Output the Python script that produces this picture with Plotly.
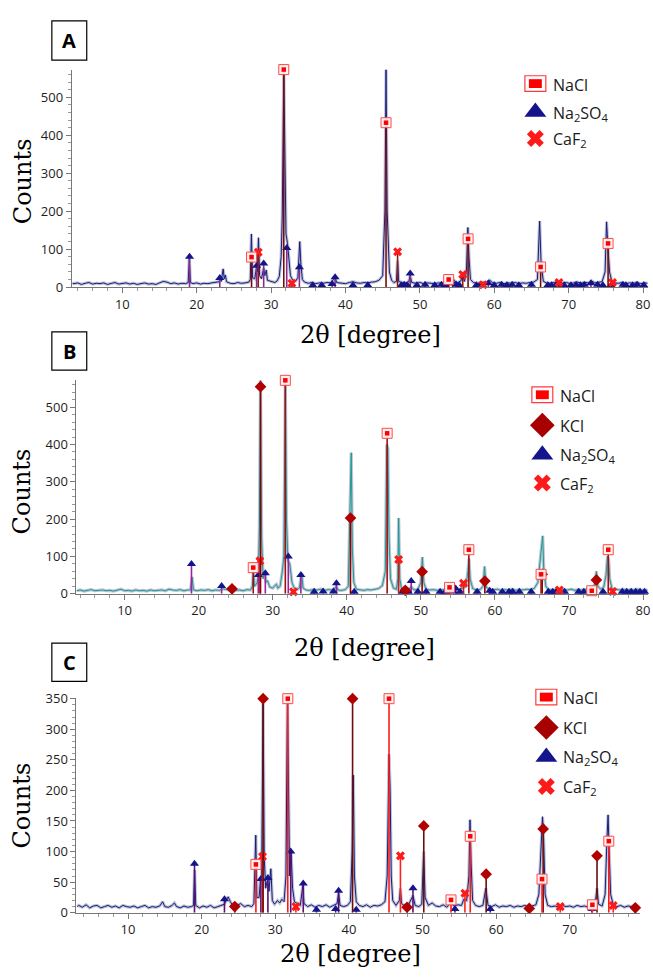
import plotly.graph_objects as go

W, H = 653, 977

# ------------------------------------------------------------------ data
# measured XRD patterns: (2theta, counts)
A_pattern = [(3.3, 10), (3.5, 9), (4, 11), (4.5, 7), (5, 10), (5.5, 12), (6, 8), (6.5, 10), (7, 9), (7.5, 11),
             (8, 7), (8.5, 10), (9, 12), (9.5, 8), (10, 9), (10.5, 11), (11, 8), (11.5, 10), (12, 7), (12.5, 9),
             (13, 11), (13.5, 8), (14, 9), (14.5, 7), (15, 10), (15.5, 15), (16, 13), (16.5, 9), (17, 11),
             (17.5, 8), (18, 10), (18.5, 9), (18.85, 12), (19.0, 75), (19.15, 12), (19.5, 9), (20, 11),
             (20.5, 8), (21, 10), (21.5, 9), (22, 11), (22.5, 12), (23, 14), (23.15, 22), (23.3, 15),
             (23.55, 48), (23.7, 22), (23.85, 32), (24.0, 14), (24.5, 10), (25, 9), (25.5, 12), (26, 10),
             (26.5, 11), (27, 13), (27.2, 20), (27.35, 140), (27.5, 25), (27.8, 22), (28.05, 55), (28.15, 40),
             (28.3, 130), (28.45, 30), (28.7, 22), (29.0, 50), (29.15, 30), (29.35, 45), (29.5, 18), (30, 14),
             (30.5, 12), (30.8, 16), (31.1, 28), (31.35, 80), (31.5, 190), (31.7, 573), (31.85, 250),
             (32.0, 140), (32.2, 115), (32.4, 60), (32.6, 30), (32.9, 18), (33.3, 16), (33.6, 25), (33.85, 120),
             (34.0, 60), (34.2, 20), (34.5, 13), (35, 10), (35.5, 12), (36, 9), (36.5, 11), (37, 10), (37.5, 12),
             (38, 11), (38.4, 20), (38.6, 28), (38.8, 12), (39.5, 10), (40, 9), (40.5, 12), (41, 14), (41.5, 11),
             (42, 10), (42.5, 12), (43, 11), (43.5, 13), (44, 14), (44.5, 18), (45, 30), (45.3, 200),
             (45.45, 573), (45.6, 200), (45.75, 140), (45.9, 40), (46.2, 18), (46.5, 12), (46.85, 15),
             (47.0, 70), (47.15, 15), (47.5, 12), (48, 10), (48.5, 14), (48.7, 30), (48.9, 12), (49.5, 10),
             (50, 12), (50.5, 9), (51, 11), (51.5, 10), (52, 9), (52.5, 11), (53, 10), (53.5, 12), (53.85, 20),
             (54.2, 12), (54.6, 18), (55, 11), (55.5, 16), (55.75, 32), (56.0, 15), (56.25, 40), (56.45, 157),
             (56.6, 80), (56.8, 20), (57.2, 12), (57.7, 10), (58.2, 11), (58.5, 13), (59, 10), (59.4, 18),
             (59.8, 11), (60.3, 10), (60.8, 12), (61.3, 9), (61.8, 11), (62.3, 10), (62.8, 12), (63.3, 9),
             (63.8, 11), (64.3, 10), (64.8, 12), (65.3, 13), (65.8, 20), (66.1, 174), (66.3, 60), (66.6, 15),
             (67, 11), (67.5, 10), (68, 12), (68.5, 9), (68.8, 14), (69.2, 10), (69.7, 12), (70.2, 9),
             (70.7, 11), (71.2, 13), (71.7, 10), (72.2, 12), (72.7, 11), (73.1, 16), (73.5, 11), (74, 12),
             (74.5, 14), (74.9, 40), (75.1, 172), (75.3, 100), (75.5, 40), (75.8, 15), (76.2, 11), (76.7, 10),
             (77.2, 12), (77.7, 9), (78.2, 11), (78.7, 10), (79.2, 12), (79.7, 9), (80.2, 11), (80.6, 10)]

B_pattern = [(3.5, 8), (4, 10), (4.5, 7), (5, 9), (5.5, 11), (6, 8), (6.5, 9), (7, 10), (7.5, 8), (8, 9),
             (8.5, 7), (9, 10), (9.5, 12), (10, 8), (10.5, 9), (11, 7), (11.5, 10), (12, 8), (12.5, 9), (13, 7),
             (13.5, 10), (14, 8), (14.5, 9), (15, 10), (15.5, 8), (16, 12), (16.5, 10), (17, 9), (17.5, 11),
             (18, 8), (18.5, 10), (18.9, 10), (19.1, 45), (19.3, 10), (19.8, 8), (20.3, 10), (20.8, 9),
             (21.3, 11), (21.8, 8), (22.3, 10), (22.8, 9), (23.2, 13), (23.6, 12), (24.0, 10), (24.5, 11),
             (25, 9), (25.5, 10), (26, 8), (26.5, 11), (27, 10), (27.25, 20), (27.4, 60), (27.55, 20),
             (27.9, 30), (28.05, 45), (28.2, 180), (28.35, 572), (28.5, 150), (28.7, 40), (28.95, 60),
             (29.1, 30), (29.3, 35), (29.6, 18), (30, 15), (30.3, 22), (30.5, 25), (30.7, 15), (31.0, 20),
             (31.3, 60), (31.5, 100), (31.7, 572), (31.85, 200), (32.05, 90), (32.3, 80), (32.6, 30),
             (32.9, 15), (33.3, 12), (33.6, 15), (33.9, 55), (34.1, 15), (34.5, 10), (35, 9), (35.5, 11),
             (36, 10), (36.5, 12), (37, 9), (37.5, 11), (38, 10), (38.4, 15), (38.6, 20), (38.8, 10), (39.3, 9),
             (39.8, 11), (40.2, 20), (40.45, 240), (40.6, 378), (40.75, 120), (40.95, 30), (41.3, 12),
             (41.8, 10), (42.3, 9), (42.8, 11), (43.3, 10), (43.8, 12), (44.3, 14), (44.8, 22), (45.2, 60),
             (45.4, 400), (45.55, 390), (45.7, 150), (45.9, 40), (46.3, 15), (46.7, 12), (46.9, 40),
             (47.0, 203), (47.15, 40), (47.4, 12), (47.9, 12), (48.3, 10), (48.7, 18), (49.1, 10), (49.6, 12),
             (50.0, 30), (50.2, 98), (50.4, 30), (50.7, 12), (51.2, 10), (51.7, 11), (52.2, 9), (52.7, 10),
             (53.2, 11), (53.7, 10), (54.2, 12), (54.7, 14), (55.2, 11), (55.7, 16), (56.1, 20), (56.35, 60),
             (56.5, 94), (56.65, 40), (57.0, 14), (57.5, 10), (58.0, 11), (58.4, 20), (58.6, 73), (58.8, 18),
             (59.3, 11), (59.8, 10), (60.3, 12), (60.8, 9), (61.3, 11), (61.8, 10), (62.3, 12), (62.8, 9),
             (63.3, 11), (63.8, 10), (64.3, 12), (64.8, 11), (65.3, 14), (65.8, 30), (66.1, 80), (66.3, 120),
             (66.45, 155), (66.6, 60), (66.9, 18), (67.3, 11), (67.8, 10), (68.3, 12), (68.8, 9), (69.3, 11),
             (69.8, 10), (70.3, 12), (70.8, 9), (71.3, 11), (71.8, 10), (72.3, 12), (72.8, 11), (73.2, 14),
             (73.55, 30), (73.7, 60), (73.9, 20), (74.3, 12), (74.7, 18), (75.0, 50), (75.2, 100), (75.35, 93),
             (75.5, 40), (75.8, 14), (76.3, 11), (76.8, 10), (77.3, 12), (77.8, 9), (78.3, 11), (78.8, 10),
             (79.3, 12), (79.8, 9), (80.3, 10), (80.6, 9)]

C_pattern = [(3.1, 10), (3.3, 12), (3.8, 9), (4.3, 13), (4.8, 8), (5.3, 11), (5.8, 12), (6.3, 8), (6.8, 10),
             (7.3, 12), (7.8, 9), (8.3, 11), (8.8, 8), (9.3, 12), (9.8, 10), (10.3, 9), (10.8, 11), (11.3, 8),
             (11.8, 10), (12.3, 12), (12.8, 8), (13.3, 10), (13.8, 9), (14.3, 11), (14.7, 18), (15.0, 10),
             (15.5, 9), (16.0, 12), (16.3, 16), (16.6, 10), (17.1, 8), (17.6, 11), (18.1, 9), (18.6, 10),
             (18.9, 12), (19.05, 70), (19.2, 12), (19.7, 8), (20.2, 11), (20.7, 9), (21.2, 12), (21.7, 8),
             (22.2, 10), (22.7, 12), (23.1, 14), (23.3, 20), (23.6, 26), (23.9, 18), (24.3, 10), (24.8, 12),
             (25.3, 15), (25.8, 10), (26.3, 12), (26.8, 10), (27.1, 15), (27.35, 127), (27.5, 25), (27.8, 25),
             (28.0, 55), (28.15, 60), (28.35, 350), (28.5, 90), (28.7, 40), (28.95, 55), (29.15, 35),
             (29.4, 72), (29.6, 20), (29.9, 14), (30.3, 20), (30.6, 16), (30.9, 22), (31.2, 18), (31.45, 60),
             (31.65, 350), (31.8, 180), (31.95, 60), (32.15, 100), (32.35, 40), (32.6, 18), (33.0, 15),
             (33.4, 12), (33.75, 45), (33.9, 15), (34.4, 10), (34.9, 13), (35.4, 9), (35.9, 12), (36.4, 10),
             (36.9, 13), (37.4, 9), (37.9, 12), (38.4, 15), (38.6, 32), (38.8, 12), (39.3, 10), (39.8, 12),
             (40.2, 18), (40.45, 100), (40.6, 225), (40.75, 60), (41.0, 18), (41.4, 12), (41.9, 10), (42.4, 13),
             (42.9, 9), (43.4, 12), (43.9, 11), (44.4, 13), (44.9, 18), (45.2, 60), (45.45, 259), (45.6, 200),
             (45.75, 60), (45.95, 20), (46.4, 12), (46.85, 20), (47.0, 40), (47.15, 15), (47.6, 11),
             (48.1, 13), (48.7, 28), (49.0, 12), (49.5, 10), (49.9, 14), (50.15, 100), (50.35, 25), (50.8, 12),
             (51.3, 16), (51.8, 11), (52.3, 10), (52.8, 13), (53.3, 9), (53.8, 16), (54.3, 11), (54.8, 13),
             (55.3, 12), (55.6, 22), (56.0, 20), (56.3, 60), (56.45, 152), (56.6, 80), (56.8, 20), (57.2, 12),
             (57.7, 10), (58.2, 12), (58.6, 40), (58.9, 12), (59.4, 10), (59.9, 13), (60.4, 9), (60.9, 11),
             (61.4, 10), (61.9, 12), (62.4, 9), (62.9, 11), (63.4, 10), (63.9, 12), (64.4, 9), (64.9, 11),
             (65.4, 13), (65.8, 30), (66.05, 100), (66.3, 157), (66.45, 120), (66.65, 30), (67.0, 12),
             (67.5, 10), (68.0, 11), (68.5, 9), (69.0, 12), (69.5, 10), (70.0, 11), (70.5, 9), (71.0, 12),
             (71.5, 10), (72.0, 11), (72.5, 9), (73.0, 12), (73.5, 20), (73.7, 40), (73.9, 14), (74.4, 11),
             (74.8, 30), (75.05, 120), (75.2, 160), (75.35, 100), (75.55, 30), (75.9, 13), (76.4, 10),
             (76.9, 12), (77.4, 9), (77.9, 11), (78.4, 10), (78.9, 12), (79.4, 9)]

# reference phase reflections: (2theta, marker height in counts)
A_nacl = [(27.37, 79), (31.70, 573), (45.45, 433), (53.87, 20), (56.48, 127), (66.23, 53), (75.30, 115)]
A_na2so4 = [(19.03, 80), (23.1, 24), (28.05, 56), (29.0, 62), (32.1, 103), (33.8, 52), (35.6, 5), (36.8, 5),
            (38.2, 8), (38.6, 26), (41.0, 5), (43.0, 5), (47.5, 5), (47.9, 6), (48.3, 5), (48.7, 36),
            (49.6, 5), (50.7, 6), (52.0, 5), (52.9, 6), (53.4, 5), (54.4, 10), (54.9, 6), (55.3, 5),
            (57.6, 5), (58.1, 5), (59.2, 10), (60.0, 5), (61.0, 6), (61.7, 5), (62.4, 6), (63.3, 5),
            (65.0, 6), (67.2, 5), (67.7, 5), (68.3, 6), (69.4, 5), (70.3, 5), (71.0, 6), (71.6, 5),
            (72.1, 6), (73.0, 10), (73.9, 6), (74.6, 5), (75.7, 5), (77.3, 6), (77.7, 5), (78.6, 5),
            (79.2, 6), (80.1, 5)]
A_caf2 = [(28.27, 92), (32.8, 10), (47.0, 93), (55.76, 33), (58.5, 6), (68.7, 12), (75.9, 12)]

B_nacl = [(27.37, 70), (31.70, 572), (45.45, 430), (53.87, 17), (56.48, 118), (66.23, 52), (73.07, 8),
          (75.30, 118)]
B_kcl = [(24.5, 13), (28.35, 555), (40.5, 203), (47.9, 9), (50.17, 59), (58.64, 34), (66.38, 52), (73.7, 37)]
B_na2so4 = [(19.03, 80), (23.1, 21), (28.05, 50), (29.0, 55), (32.1, 100), (33.8, 50), (35.6, 5), (36.8, 6),
            (38.2, 6), (38.6, 28), (41.0, 5), (47.5, 5), (48.3, 5), (48.7, 34), (49.6, 5), (50.7, 5),
            (52.6, 5), (53.3, 5), (54.4, 6), (54.7, 14), (55.3, 5), (57.6, 5), (59.3, 8), (59.7, 5),
            (61.0, 5), (61.9, 5), (62.4, 5), (63.3, 5), (64.9, 5), (67.2, 5), (67.8, 5), (68.3, 5),
            (69.4, 5), (71.3, 5), (72.0, 5), (74.6, 5), (77.2, 5), (77.8, 5), (78.4, 5), (79.0, 5),
            (79.6, 5), (80.2, 5)]
B_caf2 = [(28.27, 88), (32.8, 5), (47.0, 92), (55.76, 28), (68.7, 10), (75.9, 6)]

C_nacl = [(27.37, 79), (31.70, 350), (45.45, 350), (53.87, 21), (56.48, 125), (66.23, 55), (73.07, 13),
          (75.30, 117)]
C_kcl = [(24.5, 10), (28.35, 350), (40.5, 350), (47.9, 9), (50.17, 142), (58.64, 63), (64.5, 7),
         (66.38, 137), (73.7, 93), (78.9, 8)]
C_na2so4 = [(19.03, 80), (23.1, 22), (28.05, 55), (29.0, 57), (32.1, 100), (33.8, 48), (35.6, 5),
            (38.2, 6), (38.6, 36), (41.0, 5), (48.7, 40), (54.4, 6), (59.2, 6), (73.0, 6)]
C_caf2 = [(28.27, 92), (32.8, 10), (47.0, 93), (55.76, 32), (68.7, 10), (75.9, 12)]

x_ticks = [10, 20, 30, 40, 50, 60, 70, 80]
AB_y_ticks = [0, 100, 200, 300, 400, 500]
C_y_ticks = [0, 50, 100, 150, 200, 250, 300, 350]

# ------------------------------------------------------------------ style / layout helpers
NAVY = "#1b1b7d"
TEAL = "#1f9a92"
HALO = "rgba(135,148,178,0.55)"
RED = "#ff1a1a"
TICKFONT = dict(family="Open Sans", size=13, color="#1e1e1e")
SERIF = "DejaVu Serif"


def px_x(p):
    return p / W


def px_y(p):
    return 1 - p / H


fig = go.Figure()


def add_pattern(pts, color, xa, ya):
    xs = [p[0] for p in pts]
    ys = [p[1] for p in pts]
    fig.add_trace(go.Scatter(x=xs, y=ys, xaxis=xa, yaxis=ya, mode="lines",
                             line=dict(color=HALO, width=3.2), hoverinfo="skip", showlegend=False))
    fig.add_trace(go.Scatter(x=xs, y=ys, xaxis=xa, yaxis=ya, mode="lines",
                             line=dict(color=color, width=1), hoverinfo="skip", showlegend=False))


def add_phase(pts, kind, stick, xa, ya):
    xs = [p[0] for p in pts]
    ys = [p[1] for p in pts]
    err = dict(type="data", symmetric=False, array=[0] * len(ys), arrayminus=ys,
               color=stick, thickness=1.6, width=0)
    if kind == "NaCl":
        fig.add_trace(go.Scatter(x=xs, y=ys, xaxis=xa, yaxis=ya, mode="markers", error_y=err,
                                 marker=dict(symbol="square", size=10, color="rgba(255,240,240,0.95)",
                                             line=dict(color="#ff4a4a", width=1)),
                                 cliponaxis=False, hoverinfo="skip", showlegend=False))
        fig.add_trace(go.Scatter(x=xs, y=ys, xaxis=xa, yaxis=ya, mode="markers",
                                 marker=dict(symbol="square", size=4.5, color="#ff0000"),
                                 cliponaxis=False, hoverinfo="skip", showlegend=False))
    elif kind == "KCl":
        fig.add_trace(go.Scatter(x=xs, y=ys, xaxis=xa, yaxis=ya, mode="markers", error_y=err,
                                 marker=dict(symbol="diamond", size=9, color="#b00000"),
                                 cliponaxis=False, hoverinfo="skip", showlegend=False))
    elif kind == "Na2SO4":
        fig.add_trace(go.Scatter(x=xs, y=ys, xaxis=xa, yaxis=ya, mode="markers", error_y=err,
                                 marker=dict(symbol="triangle-up", size=8, color="#14148c"),
                                 cliponaxis=False, hoverinfo="skip", showlegend=False))
    elif kind == "CaF2":
        fig.add_trace(go.Scatter(x=xs, y=ys, xaxis=xa, yaxis=ya, mode="markers", error_y=err,
                                 marker=dict(symbol="x", size=8, color=RED, line=dict(width=0)),
                                 cliponaxis=False, hoverinfo="skip", showlegend=False))


# Panel A
add_pattern(A_pattern, NAVY, "x", "y")
add_phase(A_na2so4, "Na2SO4", "#8a2a8a", "x", "y")
add_phase(A_caf2, "CaF2", "#8b1a1a", "x", "y")
add_phase(A_nacl, "NaCl", "#7a0a0a", "x", "y")
# Panel B
add_pattern(B_pattern, TEAL, "x2", "y2")
add_phase(B_na2so4, "Na2SO4", "#a020a0", "x2", "y2")
add_phase(B_caf2, "CaF2", "#c02020", "x2", "y2")
add_phase(B_kcl, "KCl", "#8b0000", "x2", "y2")
add_phase(B_nacl, "NaCl", "#a01010", "x2", "y2")
# Panel C
add_pattern(C_pattern, NAVY, "x3", "y3")
add_phase(C_na2so4, "Na2SO4", "#5a1070", "x3", "y3")
add_phase(C_caf2, "CaF2", "#ff2020", "x3", "y3")
add_phase(C_kcl, "KCl", "#6a0d0d", "x3", "y3")
add_phase(C_nacl, "NaCl", "#ff1a1a", "x3", "y3")


def xaxis_cfg(dom, rng, anchor):
    return dict(domain=dom, range=rng, anchor=anchor, tickvals=x_ticks, ticks="outside", ticklen=5,
                tickcolor="#777", showline=True, linecolor="#777", linewidth=1, showgrid=False,
                zeroline=False, tickfont=TICKFONT, fixedrange=True,
                minor=dict(dtick=2, ticks="outside", ticklen=3, tickcolor="#999"))


def yaxis_cfg(dom, rng, anchor, ticks, minor):
    return dict(domain=dom, range=rng, anchor=anchor, tickvals=ticks, ticks="outside", ticklen=5,
                tickcolor="#777", showline=True, linecolor="#777", linewidth=1, showgrid=False,
                zeroline=False, tickfont=TICKFONT, fixedrange=True,
                minor=dict(dtick=minor, ticks="outside", ticklen=3, tickcolor="#999"))


fig.update_layout(
    width=W, height=H, margin=dict(l=0, r=0, t=0, b=0),
    paper_bgcolor="white", plot_bgcolor="rgba(0,0,0,0)", showlegend=False,
    xaxis=xaxis_cfg([px_x(72), px_x(650)], [3.2, 80.67], "y"),
    yaxis=yaxis_cfg([px_y(283.3), px_y(61.7)], [0, 573], "x", AB_y_ticks, 20),
    xaxis2=xaxis_cfg([px_x(76.7), px_x(650)], [3.5, 80.67], "y2"),
    yaxis2=yaxis_cfg([px_y(595.7), px_y(378.3)], [0, 572], "x2", AB_y_ticks, 20),
    xaxis3=xaxis_cfg([px_x(76.7), px_x(641.7)], [3.0, 79.5], "y3"),
    yaxis3=yaxis_cfg([px_y(920.7), px_y(702)], [0, 351], "x3", C_y_ticks, 10),
    xaxis4=dict(domain=[0, 1], range=[0, W], visible=False, anchor="y4", fixedrange=True),
    yaxis4=dict(domain=[0, 1], range=[H, 0], visible=False, anchor="x4", fixedrange=True),
)

ann = []
shapes = []

# axis titles
for cx, cy in [(22.5, 175), (22.5, 491), (22.5, 811)]:
    ann.append(dict(x=px_x(cx), y=px_y(cy), xref="paper", yref="paper", text="Counts", textangle=-90,
                    showarrow=False, font=dict(family=SERIF, size=24, color="#000"),
                    xanchor="center", yanchor="middle"))
for cx, cy in [(372, 332), (366, 651), (352, 963)]:
    ann.append(dict(x=px_x(cx), y=px_y(cy), xref="paper", yref="paper", text="2θ [degree]",
                    showarrow=False, font=dict(family=SERIF, size=24, color="#000"),
                    xanchor="center", yanchor="middle"))

# panel labels
for lab, y0, y1 in [("A", 12, 52), ("B", 329, 368), ("C", 646, 685)]:
    shapes.append(dict(type="rect", xref="paper", yref="paper", x0=px_x(52), x1=px_x(87),
                       y0=px_y(y1), y1=px_y(y0), line=dict(color="#000", width=1.2), fillcolor="white"))
    ann.append(dict(x=px_x(69.5), y=px_y((y0 + y1) / 2), xref="paper", yref="paper",
                    text="<b>%s</b>" % lab, showarrow=False,
                    font=dict(family="Open Sans", size=20, color="#000"), xanchor="center", yanchor="middle"))

# legends (glyph centre x, text x, rows)
legends = [
    (537, 553, [("NaCl", 76), ("Na2SO4", 105), ("CaF2", 132)]),
    (544, 560, [("NaCl", 393), ("KCl", 424), ("Na2SO4", 454), ("CaF2", 483)]),
    (548, 563, [("NaCl", 701), ("KCl", 732), ("Na2SO4", 762), ("CaF2", 792)]),
]
labels = {"NaCl": "NaCl", "KCl": "KCl", "Na2SO4": "Na<sub>2</sub>SO<sub>4</sub>", "CaF2": "CaF<sub>2</sub>"}
for gx, tx, rows in legends:
    for name, gy in rows:
        ann.append(dict(x=px_x(tx), y=px_y(gy + 1), xref="paper", yref="paper", text=labels[name],
                        showarrow=False, font=dict(family="Open Sans", size=16, color="#1a1a1a"),
                        xanchor="left", yanchor="middle"))
        if name == "NaCl":
            shapes.append(dict(type="rect", xref="paper", yref="paper",
                               x0=px_x(gx - 10.5), x1=px_x(gx + 10.5), y0=px_y(gy + 8), y1=px_y(gy - 8),
                               line=dict(color="#ff3a3a", width=1.2), fillcolor="white"))
            shapes.append(dict(type="rect", xref="paper", yref="paper",
                               x0=px_x(gx - 6.5), x1=px_x(gx + 6.5), y0=px_y(gy + 4.5), y1=px_y(gy - 4.5),
                               line=dict(width=0), fillcolor="#ff0000"))
        else:
            sym = {"KCl": ("diamond", 19, "#a80000"), "Na2SO4": ("triangle-up", 19, "#14148c"),
                   "CaF2": ("x", 15, RED)}[name]
            fig.add_trace(go.Scatter(x=[gx], y=[gy], xaxis="x4", yaxis="y4", mode="markers",
                                     marker=dict(symbol=sym[0], size=sym[1], color=sym[2], line=dict(width=0)),
                                     hoverinfo="skip", showlegend=False, cliponaxis=False))

fig.update_layout(annotations=ann, shapes=shapes)
fig.write_html("out.html")
